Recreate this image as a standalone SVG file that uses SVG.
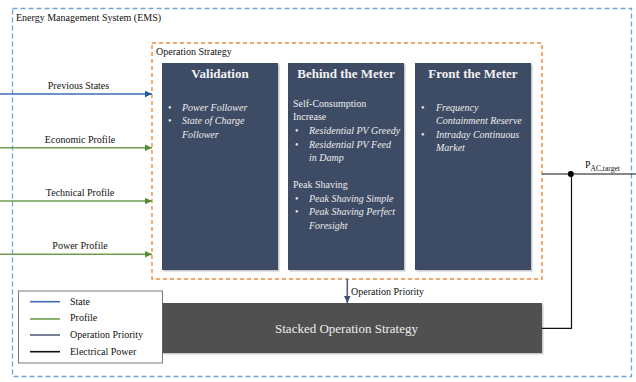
<svg xmlns="http://www.w3.org/2000/svg" width="636" height="382" viewBox="0 0 636 382" font-family="'Liberation Serif', 'DejaVu Serif', serif">
<style>
text, tspan{font-family:"Liberation Serif","DejaVu Serif",serif;}
.lbl{font-size:10px;fill:#111;}
.title{font-size:13px;font-weight:bold;fill:#F2F2F2;text-anchor:middle;}
.it{font-size:10px;font-style:italic;fill:#EDEDED;}
.up{font-size:10px;fill:#EDEDED;}
.box{fill:#3E4B65;}
.shd{fill:#9A9A9A;opacity:0.55;}
.state{stroke:#3E6DB5;stroke-width:1.6;fill:none;}
.prof{stroke:#6E9D50;stroke-width:1.6;fill:none;}
.prio{stroke:#55607C;stroke-width:1.6;fill:none;}
.elec{stroke:#111;stroke-width:1.2;fill:none;}
</style>
<defs>
<marker id="aBlue" markerUnits="userSpaceOnUse" markerWidth="8" markerHeight="7" refX="7.5" refY="3.5" orient="auto"><path d="M0,0 L7.5,3.5 L0,7 z" fill="#1F58A6"/></marker>
<marker id="aGreen" markerUnits="userSpaceOnUse" markerWidth="8" markerHeight="7" refX="7.5" refY="3.5" orient="auto"><path d="M0,0 L7.5,3.5 L0,7 z" fill="#568A36"/></marker>
<marker id="aPrio" markerUnits="userSpaceOnUse" markerWidth="8" markerHeight="7" refX="7.5" refY="3.5" orient="auto"><path d="M0,0 L7.5,3.5 L0,7 z" fill="#43506E"/></marker>
</defs>
<rect width="636" height="382" fill="#fff"/>
<g id="ems">
<rect x="12.5" y="8.5" width="619" height="368" fill="none" stroke="#6FA6D6" stroke-width="1.3" stroke-dasharray="5,3"/>
<text class="lbl" x="16" y="21">Energy Management System (EMS)</text>
</g>
<g id="operation-strategy">
<rect x="152" y="43" width="390" height="236" fill="none" stroke="#F08A3C" stroke-width="1.4" stroke-dasharray="4,3"/>
<text class="lbl" x="156" y="55">Operation Strategy</text>
</g>
<g id="validation">
<rect class="shd" x="163.5" y="64.5" width="116" height="207"/>
<rect class="box" x="162" y="63" width="116" height="207"/>
<text class="title" x="220" y="78">Validation</text>
<text class="up" x="168" y="110.5">•</text><text class="it" x="182" y="110.5">Power Follower</text>
<text class="up" x="168" y="124">•</text><text class="it" x="182" y="124">State of Charge</text>
<text class="it" x="182" y="137.5">Follower</text>
</g>
<g id="behind-the-meter">
<rect class="shd" x="289.5" y="64.5" width="116" height="207"/>
<rect class="box" x="288" y="63" width="116" height="207"/>
<text class="title" x="346" y="78">Behind the Meter</text>
<text class="up" x="293" y="106.5">Self-Consumption</text>
<text class="up" x="293" y="120">Increase</text>
<text class="up" x="295" y="134">•</text><text class="it" x="309" y="134">Residential PV Greedy</text>
<text class="up" x="295" y="147.5">•</text><text class="it" x="309" y="147.5">Residential PV Feed</text>
<text class="it" x="309" y="161">in Damp</text>
<text class="up" x="293" y="188">Peak Shaving</text>
<text class="up" x="295" y="201.5">•</text><text class="it" x="309" y="201.5">Peak Shaving Simple</text>
<text class="up" x="295" y="215">•</text><text class="it" x="309" y="215">Peak Shaving Perfect</text>
<text class="it" x="309" y="228.5">Foresight</text>
</g>
<g id="front-the-meter">
<rect class="shd" x="416.5" y="64.5" width="116" height="207"/>
<rect class="box" x="415" y="63" width="116" height="207"/>
<text class="title" x="473" y="78">Front the Meter</text>
<text class="up" x="421" y="110.5">•</text><text class="it" x="436" y="110.5">Frequency</text>
<text class="it" x="436" y="124">Containment Reserve</text>
<text class="up" x="421" y="137.5">•</text><text class="it" x="436" y="137.5">Intraday Continuous</text>
<text class="it" x="436" y="151">Market</text>
</g>
<g id="stacked">
<rect x="163.5" y="304.5" width="380" height="50" fill="#9A9A9A" opacity="0.5"/>
<rect x="162" y="303" width="380" height="50" fill="#505050"/>
<text x="346.5" y="333" font-size="13" fill="#EDEDED" text-anchor="middle">Stacked Operation Strategy</text>
</g>
<g id="connectors">
<line class="state" x1="0" y1="94" x2="152" y2="94" marker-end="url(#aBlue)"/>
<text class="lbl" x="78.5" y="89" text-anchor="middle">Previous States</text>
<line class="prof" x1="0" y1="147.7" x2="152" y2="147.7" marker-end="url(#aGreen)"/>
<text class="lbl" x="80" y="142.5" text-anchor="middle">Economic Profile</text>
<line class="prof" x1="0" y1="201" x2="152" y2="201" marker-end="url(#aGreen)"/>
<text class="lbl" x="80" y="196" text-anchor="middle">Technical Profile</text>
<line class="prof" x1="0" y1="254.3" x2="152" y2="254.3" marker-end="url(#aGreen)"/>
<text class="lbl" x="80" y="249.3" text-anchor="middle">Power Profile</text>
<line class="prio" x1="347.3" y1="279" x2="347.3" y2="303" marker-end="url(#aPrio)"/>
<text class="lbl" x="351" y="294.5">Operation Priority</text>
<polyline class="elec" points="542,328.3 571.5,328.3 571.5,174"/>
<line class="elec" x1="542" y1="174" x2="636" y2="174"/>
<circle cx="570.8" cy="174" r="3" fill="#000"/>
<text class="lbl" x="585" y="168" font-size="12">P<tspan font-size="7.5" dy="2.5">AC,target</tspan></text>
</g>
<g id="legend">
<rect x="18.5" y="291" width="144" height="72" fill="#fff" stroke="#555" stroke-width="0.8"/>
<line class="state" x1="30" y1="301.7" x2="60" y2="301.7"/>
<line class="prof" x1="30" y1="319" x2="60" y2="319"/>
<line class="prio" x1="30" y1="335" x2="60" y2="335"/>
<line x1="30" y1="351.7" x2="60" y2="351.7" stroke="#111" stroke-width="1.6"/>
<text class="lbl" x="70" y="304.5" font-size="10.5">State</text>
<text class="lbl" x="70" y="321" font-size="10.5">Profile</text>
<text class="lbl" x="70" y="338.3" font-size="10.5">Operation Priority</text>
<text class="lbl" x="70" y="354.5" font-size="10.5">Electrical Power</text>
</g>
</svg>
